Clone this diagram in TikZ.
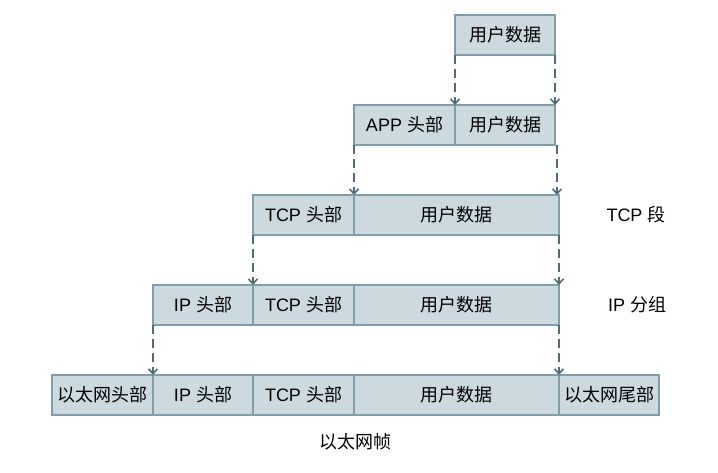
\documentclass[tikz,border=0pt]{standalone}
\usepackage{fontspec}
\setmainfont{Liberation Sans}
\newfontfamily\cjk{Noto Sans CJK SC}
\usetikzlibrary{arrows.meta}
\definecolor{boxfill}{HTML}{CCD9DF}
\definecolor{boxline}{HTML}{7F9DAB}
\definecolor{arrowcol}{HTML}{526A76}
\begin{document}
\begin{tikzpicture}[x=1pt,y=-1pt,
  font=\fontsize{18}{21}\selectfont,
  cell/.style={draw=boxline,fill=boxfill,line width=2pt,minimum height=40pt,
    inner sep=0pt,outer sep=0pt,anchor=north west},
  link/.style={draw=arrowcol,line width=2pt,dash pattern=on 9pt off 5pt,
    -{Straight Barb[length=5pt,width=9pt,line width=1.6pt]}},
  caption/.style={inner sep=0pt}]
\useasboundingbox (0,0) rectangle (718,472);
% application data
\node[cell,minimum width=100pt] (d1) at (455,15) {\cjk 用户数据};
% application layer
\node[cell,minimum width=101pt] (a2) at (354,105) {APP {\cjk 头部}};
\node[cell,minimum width=100pt] (d2) at (455,105) {\cjk 用户数据};
% transport layer
\node[cell,minimum width=101pt] (t3) at (253,195) {TCP {\cjk 头部}};
\node[cell,minimum width=205pt] (d3) at (354,195) {\cjk 用户数据};
% network layer
\node[cell,minimum width=100pt] (i4) at (153,285) {IP {\cjk 头部}};
\node[cell,minimum width=101pt] (t4) at (253,285) {TCP {\cjk 头部}};
\node[cell,minimum width=205pt] (d4) at (354,285) {\cjk 用户数据};
% link layer
\node[cell,minimum width=101pt] (e5) at (52,375) {\cjk 以太网头部};
\node[cell,minimum width=100pt] (i5) at (153,375) {IP {\cjk 头部}};
\node[cell,minimum width=101pt] (t5) at (253,375) {TCP {\cjk 头部}};
\node[cell,minimum width=205pt] (d5) at (354,375) {\cjk 用户数据};
\node[cell,minimum width=100pt] (f5) at (559,375) {\cjk 以太网尾部};
% captions
\node[caption] (ltcp) at (636,215) {TCP {\cjk 段}};
\node[caption] (lip) at (637,305) {IP {\cjk 分组}};
\node[caption] (leth) at (355,442) {\cjk 以太网帧};
% encapsulation arrows
\draw[link] (d1.south west) -- (d1.south west |- d2.north);
\draw[link] (d1.south east) -- (d1.south east |- d2.north);
\draw[link] (a2.south west) -- (a2.south west |- t3.north);
\draw[link] ([xshift=2pt]d2.south east) -- ([xshift=2pt]d2.south east |- d3.north);
\draw[link] (t3.south west) -- (t3.south west |- i4.north);
\draw[link] (d3.south east) -- (d3.south east |- d4.north);
\draw[link] (i4.south west) -- (i4.south west |- e5.north);
\draw[link] (d4.south east) -- (d4.south east |- d5.north);
\end{tikzpicture}
\end{document}
